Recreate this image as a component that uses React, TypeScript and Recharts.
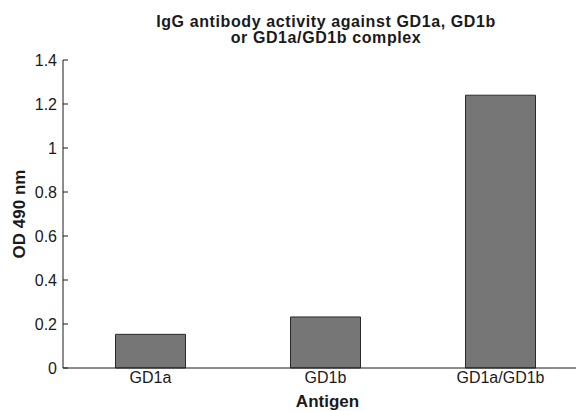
import { BarChart, Bar, XAxis, YAxis } from 'recharts';

const antigens = ['GD1a', 'GD1b', 'GD1a/GD1b'];
const odValues = [0.153, 0.232, 1.24];
const yTicks = [0, 0.2, 0.4, 0.6, 0.8, 1, 1.2, 1.4];
const groupEdges = [1, 2];

const data = antigens.map((name, i) => ({ name, od: odValues[i] }));

const font = '"Liberation Sans", Arial, Helvetica, sans-serif';
const ink = '#1a1a1a';

const YTitle = (props: any) => {
  const { x, y, height } = props.viewBox;
  const cx = x + 19;
  const cy = y + height / 2;
  return (
    <text
      x={cx}
      y={cy}
      transform={`rotate(-90, ${cx}, ${cy})`}
      textAnchor="middle"
      dominantBaseline="central"
      fontFamily={font}
      fontWeight="bold"
      fontSize={17}
      fill={ink}
    >
      OD 490 nm
    </text>
  );
};

const XTitle = (props: any) => {
  const { x, y, width } = props.viewBox;
  return (
    <text
      x={x + width / 2 + 2}
      y={y + 39}
      textAnchor="middle"
      fontFamily={font}
      fontWeight="bold"
      fontSize={17}
      fill={ink}
    >
      Antigen
    </text>
  );
};

export default function App() {
  return (
    <div
      style={{
        position: 'absolute',
        left: 0,
        top: 0,
        width: 576,
        height: 411,
        overflow: 'hidden',
        background: '#fff',
      }}
    >
      <div
        style={{
          position: 'absolute',
          left: 0,
          top: 13.5,
          width: 652,
          textAlign: 'center',
          fontFamily: font,
          fontWeight: 'bold',
          fontSize: 16,
          lineHeight: '16px',
          letterSpacing: 0.6,
          color: ink,
        }}
      >
        IgG antibody activity against GD1a, GD1b
        <br />
        or GD1a/GD1b complex
      </div>
      <BarChart
        width={600}
        height={411}
        data={data}
        margin={{ top: 60, right: 12, bottom: 0, left: 0 }}
        barCategoryGap="30%"
      >
        <XAxis
          xAxisId="grid"
          type="number"
          domain={[0, 3]}
          allowDataOverflow
          ticks={groupEdges}
          tick={false}
          axisLine={false}
          tickLine={{ stroke: ink }}
          tickSize={-5}
          height={0}
        />
        <XAxis
          xAxisId="cat"
          dataKey="name"
          height={43}
          tickSize={0}
          tickMargin={4}
          tickLine={false}
          axisLine={{ stroke: ink }}
          tick={{ fill: ink, fontSize: 16, fontFamily: font }}
          interval={0}
          label={<XTitle />}
        />
        <YAxis
          width={63}
          domain={[0, 1.4]}
          ticks={yTicks}
          tickSize={-5}
          tickMargin={11}
          axisLine={{ stroke: ink }}
          tickLine={{ stroke: ink }}
          tick={{ fill: ink, fontSize: 16, fontFamily: font }}
          interval={0}
          label={<YTitle />}
        />
        <Bar
          xAxisId="cat"
          dataKey="od"
          fill="#767676"
          stroke="#2a2a2a"
          strokeWidth={1}
          isAnimationActive={false}
        />
      </BarChart>
    </div>
  );
}
